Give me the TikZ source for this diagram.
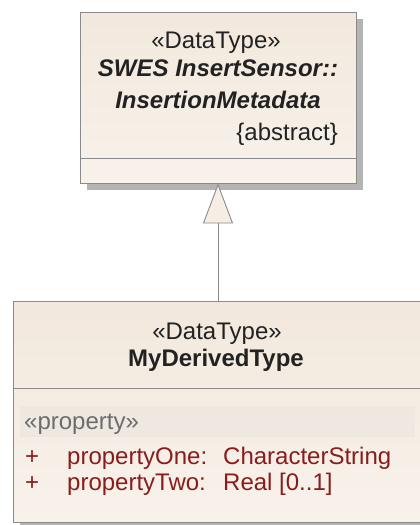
\documentclass[tikz,border=0pt]{standalone}
\usepackage{fontspec}
\setmainfont{Liberation Sans}
\usetikzlibrary{arrows.meta,shadows}
\definecolor{boxtop}{HTML}{F2E8DD}
\definecolor{boxbot}{HTML}{F8F2EB}
\definecolor{boxfill}{HTML}{F6EEE5}
\definecolor{boxline}{HTML}{8A8A8A}
\definecolor{shadowc}{HTML}{B4B4B4}
\definecolor{band}{HTML}{EEE8E1}
\definecolor{attr}{HTML}{8B1C1C}
\definecolor{stereo}{HTML}{222222}
\tikzset{
  classbox/.style={draw=boxline, top color=boxtop, bottom color=boxbot, line width=0.9pt, inner sep=0pt,
    drop shadow={shadow xshift=7pt, shadow yshift=-7pt, fill=shadowc, opacity=1}},
  txt/.style={font=\fontsize{24}{27}\selectfont, inner sep=0pt, anchor=base, text=stereo},
  attrtxt/.style={txt, anchor=base west, text=attr},
  gen/.style={draw=boxline, line width=0.9pt, -{Triangle[length=40pt,width=30pt,fill=boxfill,line width=0.9pt]}}
}
\begin{document}
\begin{tikzpicture}[x=1pt,y=-1pt]
\useasboundingbox (0,0) rectangle (420,525);
% upper class
\node[classbox, minimum width=276pt, minimum height=171pt] (base) at (218,97.5) {};
\draw[boxline, line width=0.9pt] (80,158) coordinate (d1a) -- (356,158) coordinate (d1b);
\node[txt] (b1) at (216,48) {«DataType»};
\node[txt, font=\fontsize{24}{27}\selectfont\bfseries\itshape] (b2) at (218,76) {SWES InsertSensor::};
\node[txt, font=\fontsize{24}{27}\selectfont\bfseries\itshape] (b3) at (218,108) {InsertionMetadata};
\node[txt, anchor=base east] (b4) at (338,140) {\{abstract\}};
% lower class
\node[classbox, minimum width=417pt, minimum height=221pt] (derived) at (221.5,411.5) {};
\draw[boxline, line width=0.9pt] (13,388) coordinate (d2a) -- (430,388) coordinate (d2b);
\node[fill=band, inner sep=0pt, minimum width=395pt, minimum height=31pt] (bandrow) at (217.5,421.5) {};
\node[txt] (c1) at (217,339) {«DataType»};
\node[txt, font=\fontsize{24}{27}\selectfont\bfseries] (c2) at (216,366) {MyDerivedType};
\node[txt, anchor=base west, text=gray!85!black] (c3) at (24,429) {«property»};
\node[attrtxt] (p1) at (25,464) {+};
\node[attrtxt] (p1n) at (67,464) {propertyOne:};
\node[attrtxt] (p1t) at (223,464) {CharacterString};
\node[attrtxt] (p2) at (25,490) {+};
\node[attrtxt] (p2n) at (67,490) {propertyTwo:};
\node[attrtxt] (p2t) at (223,490) {Real [0..1]};
% generalization
\draw[gen] (derived.north -| base.south) -- (base.south);
\end{tikzpicture}
\end{document}
